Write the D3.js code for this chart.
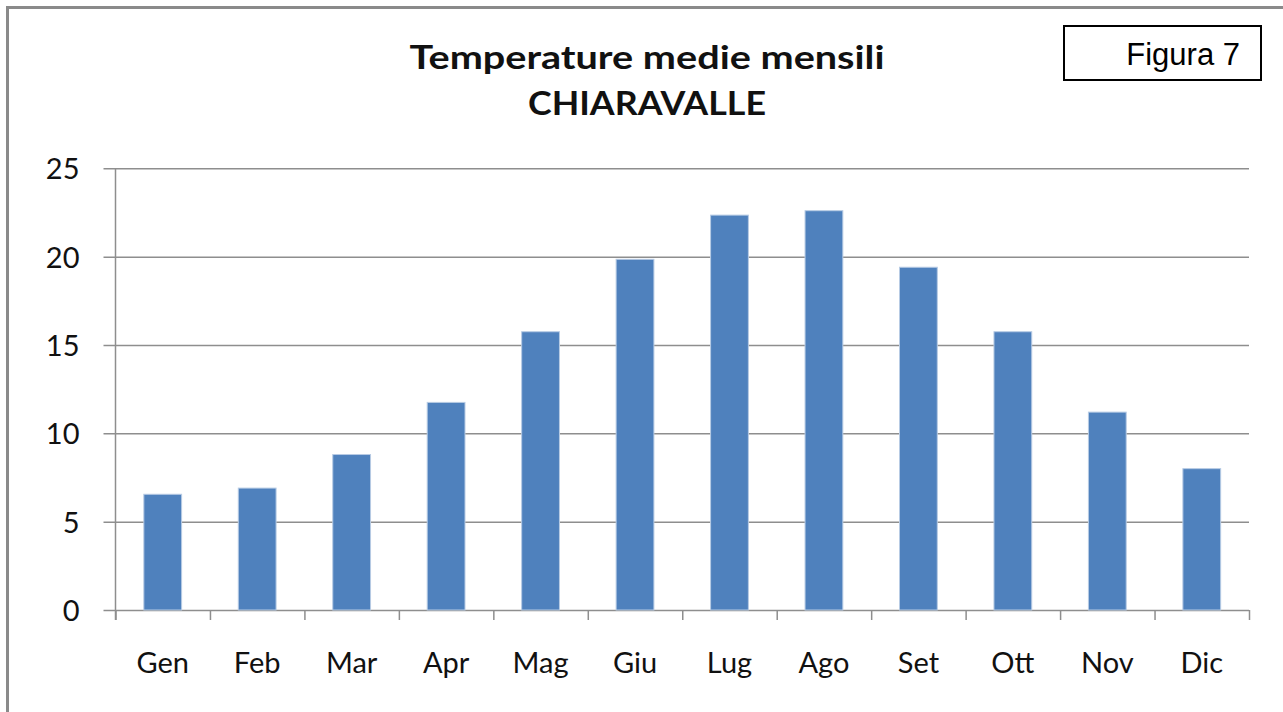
<!DOCTYPE html>
<html>
<head>
<meta charset="utf-8">
<script src="https://cdn.jsdelivr.net/npm/d3@7"></script>
<style>
  body { margin: 0; background: #fff; }
  svg { display: block; }
  text { font-family: Lato, "Open Sans", sans-serif; fill: #111; }
</style>
</head>
<body>
<div class="chart"></div>
<script>
//Data
var months = ["Gen", "Feb", "Mar", "Apr", "Mag", "Giu", "Lug", "Ago", "Set", "Ott", "Nov", "Dic"];
var temps = [6.55, 6.9, 8.8, 11.75, 15.75, 19.85, 22.35, 22.6, 19.4, 15.75, 11.2, 8.0];
var yTicks = [0, 5, 10, 15, 20, 25];
var titleLines = ["Temperature medie mensili", "CHIARAVALLE"];
var figLabel = "Figura 7";

//Width and height
var w = 1283;
var h = 712;
var plotLeft = 115.5, plotRight = 1249, plotTop = 168.3, plotBottom = 610;

var svg = d3.select(".chart")
    .append("svg")
    .attr("width", w)
    .attr("height", h);

//Outer frame
svg.append("rect")
    .attr("x", 7.5)
    .attr("y", 7.5)
    .attr("width", w + 20)
    .attr("height", h + 20)
    .attr("fill", "none")
    .attr("stroke", "#8a8a8a")
    .attr("stroke-width", 3);

//Figure label box
svg.append("rect")
    .attr("x", 1064)
    .attr("y", 26)
    .attr("width", 197)
    .attr("height", 54)
    .attr("fill", "none")
    .attr("stroke", "#000")
    .attr("stroke-width", 2);

svg.append("text")
    .attr("x", 1240)
    .attr("y", 65)
    .attr("text-anchor", "end")
    .style("font-family", "'Liberation Sans', Arial, sans-serif")
    .style("font-size", "31px")
    .style("fill", "#000")
    .text(figLabel);

//Title
var titleWidths = [475, 238];
svg.selectAll(".title")
    .data(titleLines)
    .join("text")
    .attr("class", "title")
    .attr("x", 647)
    .attr("y", (d, i) => 69 + i * 46)
    .attr("text-anchor", "middle")
    .attr("textLength", (d, i) => titleWidths[i])
    .attr("lengthAdjust", "spacingAndGlyphs")
    .style("font-size", "33px")
    .style("font-weight", "bold")
    .text(d => d);

//Scales
var x = d3.scaleBand()
    .domain(months)
    .range([plotLeft, plotRight])
    .paddingInner(0.6)
    .paddingOuter(0.3);

var xEdge = d3.scaleLinear()
    .domain([0, months.length])
    .range([plotLeft, plotRight]);

var y = d3.scaleLinear()
    .domain([0, 25])
    .range([plotBottom, plotTop]);

//Gridlines and y labels
var yAxis = svg.append("g")
    .attr("transform", "translate(" + plotLeft + ",0)")
    .call(d3.axisLeft(y)
        .tickValues(yTicks)
        .tickSizeInner(-(plotRight - plotLeft))
        .tickSizeOuter(0)
        .tickPadding(36)
    );
yAxis.select(".domain").remove();
yAxis.selectAll(".tick line")
    .attr("x1", -12)
    .attr("stroke", "#8e8e8e")
    .attr("stroke-width", 1.5);
yAxis.selectAll(".tick text")
    .style("font-size", "29px")
    .style("font-family", "Lato, sans-serif")
    .attr("fill", "#111")
    .attr("dy", "0.36em");

//Bars
svg.append("g")
    .selectAll("rect")
    .data(temps)
    .join("rect")
    .attr("x", (d, i) => x(months[i]))
    .attr("y", d => y(d))
    .attr("width", x.bandwidth())
    .attr("height", d => y(0) - y(d))
    .attr("fill", "#4f81bd")
    .attr("stroke", "#b7cbe4")
    .attr("stroke-width", 1);

//Vertical axis line
svg.append("line")
    .attr("x1", plotLeft)
    .attr("x2", plotLeft)
    .attr("y1", plotTop)
    .attr("y2", plotBottom + 10)
    .attr("stroke", "#8e8e8e")
    .attr("stroke-width", 1.5);

//Category boundary ticks
var xTicks = svg.append("g")
    .attr("transform", "translate(0," + plotBottom + ")")
    .call(d3.axisBottom(xEdge)
        .tickValues(d3.range(months.length + 1))
        .tickFormat("")
        .tickSize(10)
    );
xTicks.select(".domain").remove();
xTicks.selectAll(".tick line")
    .attr("stroke", "#8e8e8e")
    .attr("stroke-width", 1.5);

//Category labels
var xLabels = svg.append("g")
    .attr("transform", "translate(0," + plotBottom + ")")
    .call(d3.axisBottom(x).tickSize(0).tickPadding(42));
xLabels.select(".domain").remove();
xLabels.selectAll(".tick text")
    .style("font-size", "29px")
    .style("font-family", "Lato, sans-serif")
    .attr("fill", "#111");
</script>
</body>
</html>
